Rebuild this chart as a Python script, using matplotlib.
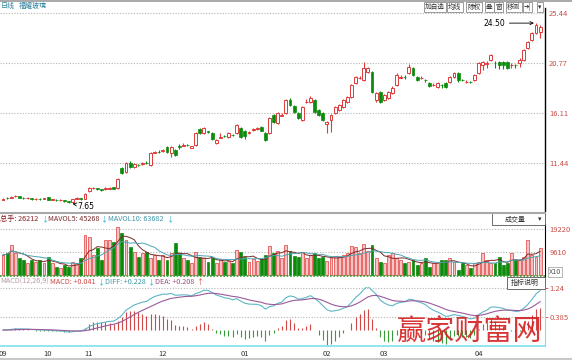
import numpy as np
import pandas as pd
import matplotlib
matplotlib.use("Agg")
import matplotlib.pyplot as plt
from matplotlib.lines import Line2D
from matplotlib.patches import Rectangle

plt.rcParams['font.family'] = ['Noto Sans CJK SC', 'DejaVu Sans']

# daily candles, Sep .. Apr
opens = [8.03, 8.20, 8.22, 8.33, 8.35, 8.22, 8.16, 8.14, 8.08, 8.12,
         8.10, 8.25, 8.04, 8.03, 7.98, 7.96, 7.86, 7.81, 8.12, 8.16,
         8.10, 8.83, 9.08, 9.08, 8.98, 8.98, 9.06, 9.18, 9.11, 10.98,
         10.60, 11.45, 11.07, 11.30, 11.38, 11.48, 11.26, 12.42, 12.52, 12.55,
         12.94, 12.38, 12.66, 13.00, 13.08, 13.15, 12.88, 13.12, 14.62, 14.24,
         14.40, 14.24, 13.31, 13.82, 14.00, 13.87, 14.10, 14.24, 14.71, 14.40,
         14.28, 14.55, 14.62, 14.80, 14.24, 14.24, 15.92, 15.18, 15.88, 16.11,
         17.32, 16.76, 16.11, 15.46, 17.10, 17.14, 17.32, 16.39, 16.11, 15.10,
         15.46, 16.11, 16.39, 16.67, 17.14, 17.60, 18.91, 19.35, 19.19, 19.94,
         19.94, 17.32, 18.07, 17.32, 17.51, 17.98, 18.72, 19.42, 19.50, 19.84,
         20.31, 19.47, 19.35, 19.22, 18.91, 18.70, 18.54, 18.75, 18.91, 19.00,
         19.47, 19.84, 19.22, 19.00, 19.04, 19.19, 19.84, 20.59, 20.72, 21.06,
         20.80, 20.87, 20.87, 20.87, 20.55, 20.60, 20.78, 21.06, 22.17, 22.92,
         23.57, 23.67]
highs = [8.18, 8.25, 8.35, 8.45, 8.40, 8.28, 8.25, 8.18, 8.15, 8.16,
         8.22, 8.30, 8.12, 8.08, 8.05, 8.00, 7.90, 8.12, 8.25, 8.20,
         8.62, 9.20, 9.25, 9.12, 9.05, 9.18, 9.20, 9.22, 10.02, 11.10,
         11.55, 11.60, 11.42, 11.38, 11.55, 11.60, 12.45, 12.60, 12.62, 12.78,
         13.05, 13.00, 12.75, 13.25, 13.35, 13.22, 13.08, 14.32, 14.72, 14.80,
         14.48, 14.30, 13.68, 14.25, 14.10, 14.32, 14.20, 15.08, 14.85, 14.50,
         14.45, 14.72, 14.85, 14.90, 14.30, 15.75, 16.05, 16.25, 16.10, 17.45,
         17.50, 16.85, 16.20, 16.80, 17.40, 17.70, 17.45, 16.50, 16.20, 15.35,
         16.00, 16.80, 16.95, 17.40, 17.70, 18.85, 19.60, 19.60, 20.87, 20.45,
         20.05, 18.10, 18.20, 17.90, 18.20, 18.60, 19.80, 19.70, 19.65, 20.70,
         20.40, 19.55, 19.55, 19.30, 19.00, 18.90, 19.00, 18.85, 19.00, 19.60,
         19.95, 19.95, 19.30, 19.15, 19.10, 19.75, 20.90, 21.00, 20.95, 21.65,
         20.95, 20.95, 20.95, 20.95, 20.75, 20.72, 21.20, 22.10, 22.85, 23.70,
         24.50, 24.30]
lows = [7.98, 8.10, 8.18, 8.28, 8.18, 8.12, 8.10, 8.03, 8.02, 8.02,
        8.06, 7.98, 7.98, 7.93, 7.92, 7.84, 7.74, 7.65, 8.05, 8.02,
        8.05, 8.78, 9.00, 8.92, 8.85, 8.92, 9.00, 9.00, 9.05, 10.40,
        10.50, 10.98, 11.00, 11.15, 11.30, 11.35, 11.20, 12.35, 12.38, 12.50,
        12.40, 12.00, 12.10, 12.80, 13.00, 13.02, 12.82, 13.05, 14.15, 14.18,
        14.25, 13.60, 13.20, 13.75, 13.88, 13.80, 13.98, 14.15, 13.80, 13.70,
        14.20, 14.45, 14.55, 14.40, 13.50, 14.15, 15.20, 15.10, 15.80, 16.05,
        16.80, 16.10, 15.55, 15.40, 17.00, 17.05, 16.10, 15.85, 15.40, 14.24,
        14.30, 16.00, 16.30, 16.60, 17.05, 17.50, 18.85, 19.25, 19.10, 19.85,
        18.00, 17.10, 17.00, 17.20, 17.45, 17.90, 18.65, 19.35, 19.30, 19.75,
        19.55, 19.10, 19.25, 19.05, 18.55, 18.60, 18.45, 18.40, 18.40, 18.95,
        19.40, 19.00, 19.10, 18.95, 18.90, 19.10, 19.75, 20.10, 20.30, 20.95,
        20.30, 20.20, 20.25, 20.20, 20.30, 20.35, 20.40, 20.98, 22.05, 22.85,
        23.45, 23.11]
closes = [8.12, 8.15, 8.30, 8.38, 8.22, 8.17, 8.19, 8.08, 8.10, 8.07,
          8.16, 8.02, 8.06, 7.98, 8.00, 7.89, 7.80, 8.08, 8.18, 8.10,
          8.55, 9.11, 9.13, 9.00, 8.93, 9.10, 9.12, 9.05, 9.95, 10.51,
          11.45, 11.07, 11.35, 11.24, 11.46, 11.42, 12.38, 12.50, 12.45, 12.68,
          12.47, 12.94, 12.19, 12.90, 13.14, 13.10, 13.00, 14.24, 14.24, 14.71,
          14.32, 13.68, 13.59, 13.90, 13.94, 14.24, 14.04, 14.99, 13.87, 13.95,
          14.36, 14.65, 14.75, 14.45, 13.59, 15.64, 15.30, 16.11, 15.95, 17.32,
          16.86, 16.20, 15.64, 16.67, 17.18, 17.51, 16.20, 15.92, 15.46, 15.25,
          15.92, 16.67, 16.86, 17.32, 17.60, 18.72, 19.47, 19.42, 20.31, 20.31,
          18.07, 17.98, 17.14, 17.79, 18.07, 18.44, 19.65, 19.50, 19.44, 20.40,
          19.65, 19.19, 19.40, 19.17, 18.63, 18.75, 18.91, 18.70, 18.54, 19.47,
          19.84, 19.19, 19.18, 19.04, 18.98, 19.65, 20.78, 20.87, 20.80, 21.52,
          20.76, 20.59, 20.59, 20.31, 20.62, 20.56, 21.06, 21.99, 22.74, 23.57,
          24.32, 24.13]
volumes = [8360, 9060, 12540, 9060, 6970, 6270, 4880, 6270, 5570, 6270,
           4880, 7660, 4880, 3480, 2790, 4180, 3480, 5570, 4880, 6970,
           16720, 16020, 8360, 11150, 6270, 14630, 14630, 13930, 20200, 17420,
           14630, 11850, 9750, 7660, 9060, 9750, 6970, 8360, 6270, 8360,
           6270, 9060, 13240, 9060, 6970, 6270, 4880, 9500, 7660, 6970,
           5500, 7000, 5000, 6500, 5500, 6000, 5000, 10500, 9500, 7500,
           5500, 6500, 6000, 6500, 8500, 12000, 9000, 10000, 7000, 12500,
           10000, 8000, 7500, 9500, 7000, 8500, 9000, 7000, 7500, 6000,
           7000, 8000, 7500, 8500, 9000, 12000, 11500, 9000, 13000, 10000,
           12500, 7000, 5570, 4880, 8360, 9060, 6970, 6270, 4880, 5570,
           6270, 4180, 4880, 6970, 3480, 4880, 4880, 6270, 6270, 6970,
           5570, 2090, 4880, 4180, 2790, 4880, 5570, 9060, 6270, 4880,
           4880, 7660, 4180, 4880, 9060, 6270, 6270, 7660, 14630, 8360,
           7660, 11150]

price_levels = [25.44, 20.77, 16.11, 11.44]
vol_levels = [19220, 9610]
macd_levels = [1.24, 0.385]
month_pos = [0, 11, 21, 39, 59, 79, 93, 116]
month_labels = ['09', '10', '11', '12', '01', '02', '03', '04']

RED = '#e03a3a'
GREEN = '#0b8a0b'
LBL = '#c8504a'
W, H = 572, 360


def fx(x):
    return x / W


def fy(y):
    return 1 - y / H


def panel(top, bottom):
    return [0, fy(bottom), 545 / W, (bottom - top) / H]


fig = plt.figure(figsize=(W / 100, H / 100), dpi=100)
fig.patch.set_facecolor('white')

n = len(closes)
x = np.arange(n)
o = np.array(opens)
c = np.array(closes)
up = c >= o
xlim = (-0.73, 132.2)

# ---- price panel
ax = fig.add_axes(panel(8, 211))
for lv in price_levels:
    ax.axhline(lv, color='#b4b4b4', lw=0.8, ls=(0, (1, 1.5)), zorder=0)
ax.vlines(x, lows, highs, colors=np.where(up, RED, GREEN), lw=0.8, zorder=1)
body = np.maximum(np.abs(c - o), 0.04)
ax.bar(x[up], body[up], bottom=np.minimum(o, c)[up], width=0.72,
       facecolor='white', edgecolor=RED, lw=0.7, zorder=2)
ax.bar(x[~up], body[~up], bottom=np.minimum(o, c)[~up], width=0.72,
       facecolor=GREEN, edgecolor=GREEN, lw=0.5, zorder=2)
ax.set_xlim(*xlim)
ax.set_ylim(6.97, 25.91)
ihi = int(np.argmax(highs))
ax.annotate(f'{highs[ihi]:.2f}', xy=(ihi - 0.5, highs[ihi]), xytext=(ihi - 7.5, highs[ihi]),
            fontsize=5.5, va='center', ha='right', family='DejaVu Sans',
            arrowprops=dict(arrowstyle='->', lw=0.6, color='black', shrinkA=1, shrinkB=0))
ilo = int(np.argmin(lows))
ax.annotate(f'{lows[ilo]:.2f}', xy=(ilo, lows[ilo]), xytext=(ilo + 1.2, lows[ilo] - 0.25),
            fontsize=5.5, va='center', ha='left', family='DejaVu Sans',
            arrowprops=dict(arrowstyle='->', lw=0.6, color='black', shrinkA=0, shrinkB=0))
ax.yaxis.tick_right()
ax.set_yticks(price_levels)
ax.set_yticklabels([f'{v:.2f}' for v in price_levels])
ax.tick_params(axis='y', length=0, pad=3, labelsize=5.5, labelcolor=LBL)
ax.set_xticks([])
for s in ['top', 'left', 'bottom']:
    ax.spines[s].set_visible(False)
ax.spines['right'].set_color('black')
ax.spines['right'].set_linewidth(1)

# ---- volume panel
axv = fig.add_axes(panel(224, 277))
for lv in vol_levels:
    axv.axhline(lv, color='#b4b4b4', lw=0.8, ls=(0, (1, 1.5)), zorder=0)
vol = np.array(volumes)
axv.bar(x[up], vol[up], width=0.72, facecolor='#f6c4c4', edgecolor=RED, lw=0.5)
axv.bar(x[~up], vol[~up], width=0.72, facecolor=GREEN, edgecolor=GREEN, lw=0.5)
vs = pd.Series(volumes)
axv.plot(x, vs.rolling(5, min_periods=1).mean(), color='#7a2a2a', lw=0.7)
axv.plot(x, vs.rolling(10, min_periods=1).mean(), color='#4aa6b4', lw=0.7)
axv.axhline(-500, color='#2fa02f', lw=1.2, ls=(0, (1, 1)))
axv.set_xlim(*xlim)
axv.set_ylim(-836, 21318)
axv.yaxis.tick_right()
axv.set_yticks(vol_levels)
axv.set_yticklabels([str(v) for v in vol_levels])
axv.tick_params(axis='y', length=0, pad=3, labelsize=5.5, labelcolor=LBL)
axv.set_xticks([])
for s in ['top', 'left', 'bottom']:
    axv.spines[s].set_visible(False)
axv.spines['right'].set_color('black')

# ---- MACD panel
cs = pd.Series(closes)
dif = cs.ewm(span=12, adjust=False).mean() - cs.ewm(span=26, adjust=False).mean()
dea = dif.ewm(span=9, adjust=False).mean()
hist = 2 * (dif - dea)
axm = fig.add_axes(panel(287, 346))
for lv in macd_levels:
    axm.axhline(lv, color='#b4b4b4', lw=0.8, ls=(0, (1, 1.5)), zorder=0)
axm.vlines(x, 0, hist, colors=np.where(hist >= 0, '#d04848', '#3c9c3c'), lw=0.8)
axm.plot(x, dif, color='#5fb6c6', lw=0.8)
axm.plot(x, dea, color='#9a5a9a', lw=0.8)
axm.set_xlim(*xlim)
axm.set_ylim(-0.472, 1.27)
axm.yaxis.tick_right()
axm.set_yticks(macd_levels)
axm.set_yticklabels(['1.24', '0.385'])
axm.tick_params(axis='y', length=2, width=0.6, color=LBL, pad=1, labelsize=5.5, labelcolor=LBL)
axm.set_xticks(month_pos)
axm.set_xticklabels(month_labels)
axm.tick_params(axis='x', length=0, pad=3, labelsize=5.5, labelcolor='#333333')
for s in ['top', 'left']:
    axm.spines[s].set_visible(False)
axm.spines['bottom'].set_color('#7fe0ea')
axm.spines['right'].set_color('#7fe0ea')
axm.spines['bottom'].set_linewidth(1.2)

# ---- frame lines and headers
fig.add_artist(Line2D([0, 1], [fy(0.6), fy(0.6)], color='#9a9a9a', lw=1.2))
fig.add_artist(Line2D([0, fx(545)], [fy(212.5), fy(212.5)], color='#a8a8a8', lw=1.5))
fig.add_artist(Line2D([0, 1], [fy(358.5), fy(358.5)], color='#c8c8c8', lw=1.5))

fig.text(fx(1), fy(6), '日线', fontsize=5, color='#2a7f9a', va='center')
fig.text(fx(19), fy(6), '福耀玻璃', fontsize=5, color='#2a7f9a', va='center')

buttons = [('加自选', 425), ('均线', 448), ('除权', 467), ('叠', 486), ('窗', 495), ('移测', 507), ('➔|', 524), ('▾', 538)]
for label, bx in buttons:
    fig.text(fx(bx), fy(7), label, fontsize=4.8, color='#333333', va='center', ha='left',
             family=['Noto Sans CJK SC', 'DejaVu Sans'],
             bbox=dict(boxstyle='square,pad=0.2', fc='white', ec='#8a8a8a', lw=0.6))

vol_head = [('总手: 26212', 0, '#8a1f1f'), ('↓', 41, '#2ab0d0'),
            ('MAVOL5: 45268', 48, '#7a2a2a'), ('↓', 100, '#2ab0d0'),
            ('MAVOL10: 63682', 108, '#3f97a8'), ('↓', 166, '#2ab0d0')]
for t, tx, col in vol_head:
    fig.text(fx(tx), fy(219), t, fontsize=5.2, color=col, va='center', ha='left')

macd_head = [('MACD(12,26,9)', 0, '#b89aaa'), ('MACD: +0.041', 50, '#d04848'), ('↓', 97, '#2ab0d0'),
             ('DIFF: +0.228', 105, '#3f97a8'), ('↓', 147, '#2ab0d0'),
             ('DEA: +0.208', 155, '#9a4a7a'), ('↑', 196, '#d04848')]
for t, tx, col in macd_head:
    fig.text(fx(tx), fy(282), t, fontsize=5.2, color=col, va='center', ha='left')

fig.add_artist(Rectangle((fx(492), fy(225)), fx(545) - fx(492), fy(213) - fy(225),
                         transform=fig.transFigure, fc='white', ec='#555555', lw=0.6))
fig.text(fx(505), fy(219), '成交量', fontsize=5, color='#333333', va='center')
fig.text(fx(538), fy(219), '▾', fontsize=5, color='#333333', va='center')
fig.add_artist(Rectangle((fx(507), fy(289)), fx(545) - fx(507), fy(277) - fy(289),
                         transform=fig.transFigure, fc='white', ec='#555555', lw=0.6))
fig.text(fx(511), fy(283), '指标说明', fontsize=5, color='#333333', va='center')
fig.text(fx(549), fy(272), 'X10', fontsize=5.2, color='#555555', va='center',
         bbox=dict(boxstyle='square,pad=0.15', fc='white', ec='#999999', lw=0.5))

# watermark
fig.text(fx(470), fy(332), '赢家财富网', fontsize=21, color='#d42020', va='center', ha='center',
         alpha=0.9)

fig.savefig('out.png', dpi=100, facecolor='white')
